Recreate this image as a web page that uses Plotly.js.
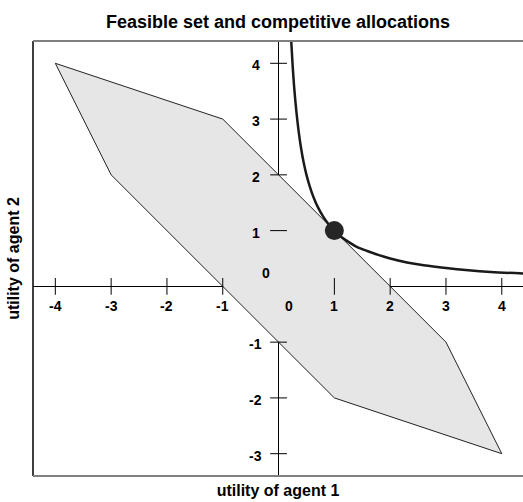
<!DOCTYPE html>
<html>
<head>
<meta charset="utf-8">
<script src="https://cdn.plot.ly/plotly-3.0.1.min.js"></script>
<style>html,body{margin:0;padding:0;background:#fff;}#chart{width:523px;height:502px;}</style>
</head>
<body>
<div id="chart"></div>
<script>
// Feasible set polygon vertices (utility of agent 1, utility of agent 2)
var feasibleX = [-4, -1, 3, 4, 1, -3, -4];
var feasibleY = [4, 3, -1, -3, -2, 2, 4];

// Indifference curve
var curveX = [0.227, 0.25, 0.28, 0.32, 0.36, 0.4, 0.45, 0.5, 0.56, 0.63, 0.7, 0.8, 0.9, 1.0, 1.12, 1.25, 1.4, 1.6, 1.8, 2.0, 2.3, 2.6, 3.0, 3.4, 3.8, 4.4];
var curveY = [4.4, 4.0, 3.57, 3.13, 2.78, 2.5, 2.22, 2.0, 1.79, 1.59, 1.43, 1.25, 1.11, 1.0, 0.89, 0.8, 0.71, 0.63, 0.56, 0.5, 0.43, 0.38, 0.33, 0.29, 0.26, 0.23];

// Competitive allocation
var allocX = [1];
var allocY = [1];

// Tick values / labels
var xTicks = [-4, -3, -2, -1, 1, 2, 3, 4];
var yTicks = [-3, -2, -1, 1, 2, 3, 4];
var xTickLabels = ['-4', '-3', '-2', '-1', '1', '2', '3', '4'];
var yTickLabels = ['-3', '-2', '-1', '1', '2', '3', '4'];

var FONT = 'Liberation Sans, Arial, Helvetica, sans-serif';

var traces = [
  {
    x: feasibleX, y: feasibleY, type: 'scatter', mode: 'lines',
    fill: 'toself', fillcolor: '#e6e6e6',
    line: {color: '#222222', width: 1}, hoverinfo: 'skip', showlegend: false
  },
  {
    x: curveX, y: curveY, type: 'scatter', mode: 'lines',
    line: {color: '#1a1a1a', width: 2.5, shape: 'spline'}, hoverinfo: 'skip', showlegend: false
  },
  {
    x: xTicks, y: xTicks.map(function(){return 0;}), type: 'scatter', mode: 'markers',
    marker: {symbol: 'line-ns-open', size: 12, color: '#000', line: {color: '#000', width: 1}},
    hoverinfo: 'skip', showlegend: false
  },
  {
    x: yTicks.map(function(){return 0;}), y: yTicks, type: 'scatter', mode: 'markers',
    marker: {symbol: 'line-ew-open', size: 12, color: '#000', line: {color: '#000', width: 1}},
    hoverinfo: 'skip', showlegend: false
  },
  {
    x: allocX, y: allocY, type: 'scatter', mode: 'markers',
    marker: {size: 19, color: '#262626', line: {width: 0}},
    hoverinfo: 'skip', showlegend: false
  }
];

var annotations = [];
xTicks.forEach(function(v, i){
  annotations.push({x: v, y: 0, xref: 'x', yref: 'y', text: xTickLabels[i], showarrow: false,
    xanchor: 'center', yanchor: 'middle', yshift: -20,
    font: {family: FONT, size: 14, color: '#000', weight: 'bold'}});
});
yTicks.forEach(function(v, i){
  annotations.push({x: 0, y: v, xref: 'x', yref: 'y', text: yTickLabels[i], showarrow: false,
    xanchor: 'center', yanchor: 'middle', xshift: -23, yshift: -2,
    font: {family: FONT, size: 14, color: '#000', weight: 'bold'}});
});
annotations.push({x: 0, y: 0, xref: 'x', yref: 'y', text: '0', showarrow: false,
  xanchor: 'center', yanchor: 'middle', xshift: 10, yshift: -20,
  font: {family: FONT, size: 14, color: '#000', weight: 'bold'}});
annotations.push({x: 0, y: 0, xref: 'x', yref: 'y', text: '0', showarrow: false,
  xanchor: 'center', yanchor: 'middle', xshift: -13, yshift: 13,
  font: {family: FONT, size: 14, color: '#000', weight: 'bold'}});

var layout = {
  width: 523, height: 502,
  margin: {l: 33, r: 0, t: 41, b: 26, pad: 0},
  paper_bgcolor: '#ffffff', plot_bgcolor: '#ffffff',
  title: {text: 'Feasible set and competitive allocations', x: 0.5315, xanchor: 'center',
    y: 1 - 22 / 502, yref: 'container', yanchor: 'middle',
    font: {family: FONT, size: 18, color: '#000', weight: 'bold'}},
  xaxis: {range: [-4.4, 4.38], showgrid: false, showticklabels: false, ticks: '',
    zeroline: true, zerolinecolor: '#000', zerolinewidth: 1, showline: false,
    title: {text: 'utility of agent 1', standoff: 8, font: {family: FONT, size: 16, color: '#000', weight: 'bold'}}},
  yaxis: {range: [-3.4, 4.4], showgrid: false, showticklabels: false, ticks: '',
    zeroline: true, zerolinecolor: '#000', zerolinewidth: 1, showline: false,
    title: {text: 'utility of agent 2', standoff: 8, font: {family: FONT, size: 16, color: '#000', weight: 'bold'}}},
  shapes: [
    {type: 'line', xref: 'paper', yref: 'paper', x0: 0, x1: 0, y0: 0, y1: 1, line: {color: '#000', width: 1.5}},
    {type: 'line', xref: 'paper', yref: 'paper', x0: 0, x1: 1, y0: 1, y1: 1, line: {color: '#808080', width: 2}},
    {type: 'line', xref: 'paper', yref: 'paper', x0: 0, x1: 1, y0: 0, y1: 0, line: {color: '#808080', width: 2}}
  ],
  annotations: annotations,
  showlegend: false,
  hovermode: false
};

Plotly.newPlot('chart', traces, layout, {displayModeBar: false, staticPlot: true});
</script>
</body>
</html>
